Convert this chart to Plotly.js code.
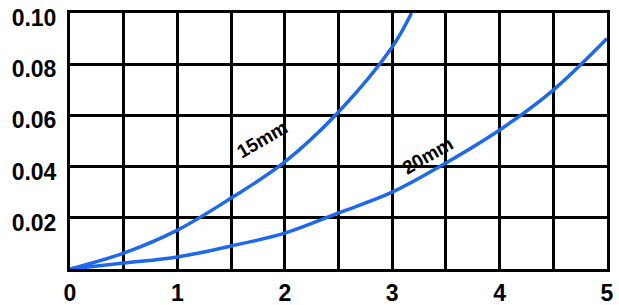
<!DOCTYPE html>
<html>
<head>
<meta charset="utf-8">
<script src="https://cdn.plot.ly/plotly-3.0.1.min.js"></script>
<style>html,body{margin:0;padding:0;background:#fff;}#chart{width:619px;height:305px;}</style>
</head>
<body>
<div id="chart"></div>
<script>
// Curve data
const x15 = [0, 0.5, 1, 1.5, 2, 2.5, 3, 3.18];
const y15 = [0, 0.0062, 0.0152, 0.0277, 0.0418, 0.0613, 0.0867, 0.1];
const x20 = [0, 0.5, 1, 1.5, 2, 2.5, 3, 3.5, 4, 4.5, 5];
const y20 = [0, 0.0023, 0.0047, 0.009, 0.014, 0.0219, 0.030, 0.0414, 0.0543, 0.0699, 0.090];
const curveLabels = ['15mm', '20mm'];
const labelX = [1.79, 3.33];
const labelY = [0.0504, 0.0445];
const xTicks = [0, 1, 2, 3, 4, 5];
const yTicks = [0.02, 0.04, 0.06, 0.08, 0.10];

const blue = 'rgb(30,105,235)';
const traces = [
  {x: x15, y: y15, mode: 'lines', line: {color: blue, width: 3.5, shape: 'spline'}, hoverinfo: 'skip'},
  {x: x20, y: y20, mode: 'lines', line: {color: blue, width: 3.5, shape: 'spline'}, hoverinfo: 'skip'}
];

const annotations = curveLabels.map((t, i) => ({
  x: labelX[i], y: labelY[i], xref: 'x', yref: 'y', text: t, showarrow: false,
  textangle: -30, font: {family: 'Liberation Sans, Arial, sans-serif', size: 19, color: '#000', weight: 'bold'}
}));

const layout = {
  width: 619, height: 305,
  margin: {l: 70, r: 12, t: 13, b: 36},
  paper_bgcolor: '#fff', plot_bgcolor: '#fff',
  showlegend: false,
  xaxis: {
    range: [0, 5], tickvals: xTicks, ticktext: xTicks.map(String),
    showgrid: true, gridcolor: '#000', gridwidth: 3,
    minor: {dtick: 0.5, showgrid: true, gridcolor: '#000', gridwidth: 3},
    showline: true, linecolor: '#000', linewidth: 3, mirror: true,
    zeroline: false, ticks: '', ticklabelstandoff: 1,
    tickfont: {family: 'Liberation Sans, Arial, sans-serif', size: 23, color: '#000', weight: 'bold'}
  },
  yaxis: {
    range: [0, 0.1], tickvals: yTicks, ticktext: yTicks.map(v => v.toFixed(2)),
    showgrid: true, gridcolor: '#000', gridwidth: 3,
    showline: true, linecolor: '#000', linewidth: 3, mirror: true,
    zeroline: false, ticks: '', ticklabelstandoff: 6,
    ticklabelshift: 5, ticklabeloverflow: 'allow',
    tickfont: {family: 'Liberation Sans, Arial, sans-serif', size: 23, color: '#000', weight: 'bold'}
  },
  annotations: annotations
};

Plotly.newPlot('chart', traces, layout, {staticPlot: true, displayModeBar: false});
</script>
</body>
</html>
